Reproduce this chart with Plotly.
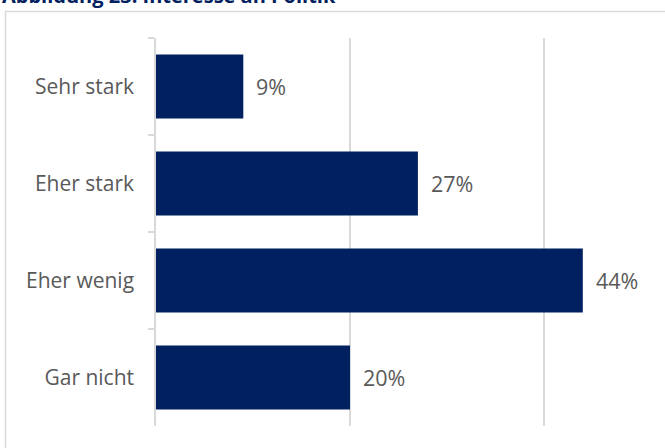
import plotly.graph_objects as go

# Interest in politics, share of respondents
categories = ["Sehr stark", "Eher stark", "Eher wenig", "Gar nicht"]
shares = [9, 27, 44, 20]
title_text = "Abbildung 23: Interesse an Politik"

W, H = 665, 448
ML, MT, MB, MR = 156, 38, 22, 0
plot_w = W - ML - MR
plot_h = H - MT - MB
px_per_pct = 9.7
x_max = plot_w / px_per_pct

navy = "#002060"
grey_text = "#595959"
grid = "#d9d9d9"
family = "Open Sans, Liberation Sans, sans-serif"


def px_to_paper_x(px):
    return (px - ML) / plot_w


def px_to_paper_y(py):
    return 1 - (py - MT) / plot_h


fig = go.Figure(
    go.Bar(
        y=categories,
        x=shares,
        orientation="h",
        marker=dict(color=navy, line=dict(width=0)),
        width=0.66,
        hoverinfo="skip",
    )
)

# value labels to the right of each bar
for cat, val in zip(categories, shares):
    fig.add_annotation(
        x=val, y=cat, xref="x", yref="y",
        text=f"{val}%", showarrow=False,
        xanchor="left", yanchor="middle", xshift=11,
        font=dict(family=family, size=21.5, color=grey_text),
    )

# outer frame of the chart box
fig.add_shape(
    type="rect", xref="paper", yref="paper",
    x0=px_to_paper_x(5.5), x1=px_to_paper_x(W + 20),
    y0=px_to_paper_y(H + 20), y1=px_to_paper_y(11.5),
    line=dict(color=grid, width=1.5), fillcolor="rgba(0,0,0,0)", layer="below",
)

# figure title, partly above the visible area
fig.add_annotation(
    x=px_to_paper_x(0), y=px_to_paper_y(11.5), xref="paper", yref="paper",
    text=f"<b>{title_text}</b>", showarrow=False,
    xanchor="left", yanchor="bottom",
    font=dict(family=family, size=20, color=navy),
)

fig.update_layout(
    width=W, height=H,
    margin=dict(l=ML, r=MR, t=MT, b=MB, pad=0),
    paper_bgcolor="white", plot_bgcolor="white",
    showlegend=False,
    font=dict(family=family, size=21, color=grey_text),
    xaxis=dict(
        range=[0, x_max], dtick=20, tick0=0,
        showgrid=True, gridcolor=grid, gridwidth=1.5,
        showticklabels=False, zeroline=False, showline=False, ticks="",
    ),
    yaxis=dict(
        categoryorder="array", categoryarray=categories, autorange="reversed",
        showline=True, linecolor=grid, linewidth=1.5,
        ticks="outside", tickson="boundaries", ticklen=6, tickcolor=grid, tickwidth=1.5,
        showgrid=False, ticklabelstandoff=16,
        tickfont=dict(family=family, size=21, color=grey_text),
    ),
)

fig.write_html("out.html")
